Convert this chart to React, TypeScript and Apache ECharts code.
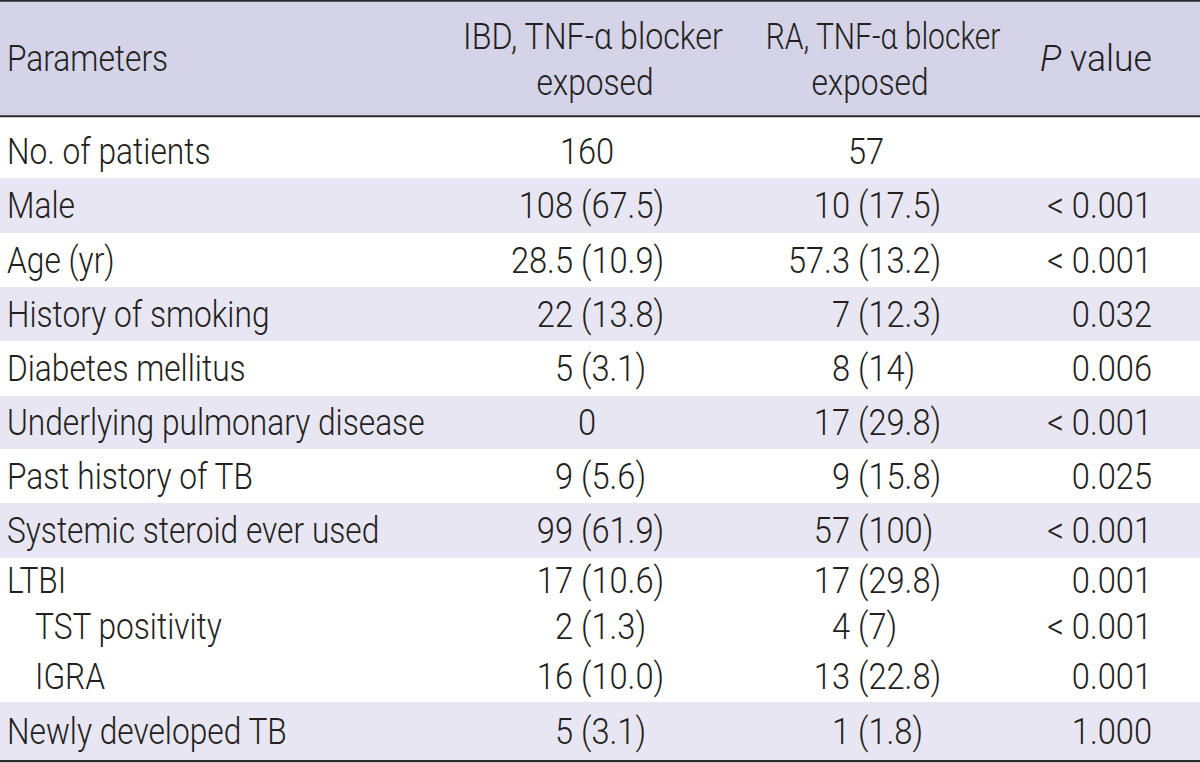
import React, { useEffect, useRef } from 'react';
import * as echarts from 'echarts';

// ---------- table content ----------
const headerParameters = 'Parameters';
const headerIBD = ['IBD, TNF-α blocker', 'exposed'];
const headerRA = ['RA, TNF-α blocker', 'exposed'];
const headerPItalic = 'P';
const headerPRest = ' value';

const parameters = [
  'No. of patients',
  'Male',
  'Age (yr)',
  'History of smoking',
  'Diabetes mellitus',
  'Underlying pulmonary disease',
  'Past history of TB',
  'Systemic steroid ever used',
  'LTBI',
  'TST positivity',
  'IGRA',
  'Newly developed TB',
];
const indentLevels = [0, 0, 0, 0, 0, 0, 0, 0, 0, 1, 1, 0];
const ibdValues = ['160', '108 (67.5)', '28.5 (10.9)', '22 (13.8)', '5 (3.1)', '0', '9 (5.6)', '99 (61.9)', '17 (10.6)', '2 (1.3)', '16 (10.0)', '5 (3.1)'];
const raValues = ['57', '10 (17.5)', '57.3 (13.2)', '7 (12.3)', '8 (14)', '17 (29.8)', '9 (15.8)', '57 (100)', '17 (29.8)', '4 (7)', '13 (22.8)', '1 (1.8)'];
const pValues = ['', '< 0.001', '< 0.001', '0.032', '0.006', '< 0.001', '0.025', '< 0.001', '0.001', '< 0.001', '0.001', '1.000'];

// ---------- layout / style ----------
const W = 1200;
const BODY_TOP = 125;
const BODY_BOTTOM = 760;
const ROW_H = [53, 55, 54, 54, 55, 53, 54, 55, 45, 47, 52, 58];
const SHADED = [false, true, false, true, false, true, false, true, false, false, false, true];
const BODY_H = ROW_H.reduce((a, b) => a + b, 0);
const ROW_START: number[] = [];
ROW_H.reduce((acc, h, i) => {
  ROW_START[i] = acc;
  return acc + h;
}, 0);

const FONT = 'Roboto, "Liberation Sans", Arial, sans-serif';
const FS = 37.5;
const FW = 300;
const INK = '#231f20';
const HEADER_BG = '#d4d3e8';
const ROW_BG = '#e7e6f2';
const RULE = '#2a2a2a';
const SX_LABEL = 0.845;
const SX_NUM = 0.87;

const LABEL_X = 7;
const INDENT = 28;
const COLS = [
  { paren: 581, plain: 587 },
  { paren: 858, plain: 866 },
];
const PAREN_GAP = 8;
const P_RIGHT = 1152;

function textEl(text: string, x: number, y: number, align: string, sx: number, extra: any = {}) {
  return {
    type: 'text',
    x,
    y,
    scaleX: sx,
    scaleY: 1,
    silent: true,
    style: {
      text,
      x: 0,
      y: 0,
      align,
      verticalAlign: 'middle',
      fontSize: FS,
      fontWeight: FW,
      fontFamily: FONT,
      fill: INK,
      ...extra,
    },
  };
}

function valueEls(value: string, col: { paren: number; plain: number }, y: number, api: any, mid: number) {
  const k = value.indexOf(' (');
  if (k < 0) {
    const cx = api.coord([col.plain, mid])[0];
    return [textEl(value, cx, y, 'center', SX_NUM)];
  }
  const px = api.coord([col.paren, mid])[0];
  const gx = api.coord([col.paren - PAREN_GAP, mid])[0];
  return [
    textEl(value.slice(0, k), gx, y, 'right', SX_NUM),
    textEl(value.slice(k + 1), px, y, 'left', SX_NUM),
  ];
}

function renderRow(params: any, api: any) {
  const i = params.dataIndex;
  const top = ROW_START[i];
  const bottom = top + ROW_H[i];
  const mid = (top + bottom) / 2;
  const p0 = api.coord([0, top]);
  const p1 = api.coord([W, bottom]);
  const y = api.coord([0, mid])[1];
  const children: any[] = [];
  if (SHADED[i]) {
    children.push({
      type: 'rect',
      silent: true,
      shape: { x: p0[0], y: p0[1], width: p1[0] - p0[0], height: p1[1] - p0[1] },
      style: { fill: ROW_BG },
    });
  }
  const lx = api.coord([LABEL_X + indentLevels[i] * INDENT, mid])[0];
  children.push(textEl(parameters[i], lx, y, 'left', SX_LABEL));
  children.push(...valueEls(ibdValues[i], COLS[0], y, api, mid));
  children.push(...valueEls(raValues[i], COLS[1], y, api, mid));
  if (pValues[i]) {
    const rx = api.coord([P_RIGHT, mid])[0];
    children.push(textEl(pValues[i], rx, y, 'right', SX_NUM));
  }
  return { type: 'group', children };
}

function headerText(text: string, x: number, y: number, align: string, sx: number, extra: any = {}) {
  return {
    type: 'text',
    x,
    y,
    scaleX: sx,
    z: 20,
    silent: true,
    style: {
      text,
      x: 0,
      y: 0,
      align,
      verticalAlign: 'middle',
      fontSize: FS,
      fontWeight: FW,
      fontFamily: FONT,
      fill: INK,
      ...extra,
    },
  };
}

const option: any = {
  animation: false,
  backgroundColor: '#ffffff',
  grid: { left: 0, right: 0, top: BODY_TOP, bottom: 763 - BODY_BOTTOM, containLabel: false },
  xAxis: { type: 'value', min: 0, max: W, show: false },
  yAxis: { type: 'value', min: 0, max: BODY_H, inverse: true, show: false },
  graphic: [
    { type: 'rect', z: 0, silent: true, shape: { x: 0, y: 0, width: W, height: 116 }, style: { fill: HEADER_BG } },
    { type: 'line', z: 30, silent: true, shape: { x1: 0, y1: 0.9, x2: W, y2: 0.9 }, style: { stroke: RULE, lineWidth: 1.8 } },
    { type: 'line', z: 30, silent: true, shape: { x1: 0, y1: 116.3, x2: W, y2: 116.3 }, style: { stroke: RULE, lineWidth: 2 } },
    { type: 'line', z: 30, silent: true, shape: { x1: 0, y1: 761.2, x2: W, y2: 761.2 }, style: { stroke: RULE, lineWidth: 2.2 } },
    headerText(headerParameters, 7, 58.5, 'left', SX_LABEL),
    headerText(headerIBD[0], 593, 36.7, 'center', 0.86),
    headerText(headerIBD[1], 595, 81.7, 'center', SX_LABEL),
    headerText(headerRA[0], 883, 36.7, 'center', 0.8),
    headerText(headerRA[1], 870, 81.7, 'center', SX_LABEL),
    headerText('{i|' + headerPItalic + '}{r|' + headerPRest + '}', P_RIGHT, 58.5, 'right', 0.95, {
      rich: {
        i: { fontStyle: 'italic', fontSize: FS, fontWeight: FW, fontFamily: FONT, fill: INK },
        r: { fontSize: FS, fontWeight: FW, fontFamily: FONT, fill: INK },
      },
    }),
  ],
  series: [
    {
      type: 'custom',
      coordinateSystem: 'cartesian2d',
      clip: false,
      encode: { x: 0, y: 1 },
      data: parameters.map((_, i) => [0, ROW_START[i]]),
      renderItem: renderRow,
    },
  ],
};

export default function App() {
  const ref = useRef<HTMLDivElement>(null);
  useEffect(() => {
    if (!ref.current) return;
    const chart = echarts.init(ref.current, null, { renderer: 'svg' });
    chart.setOption(option);
    return () => chart.dispose();
  }, []);
  return (
    <div
      ref={ref}
      style={{ position: 'fixed', left: 0, top: 0, width: 1200, height: 763, background: '#fff' }}
    />
  );
}
